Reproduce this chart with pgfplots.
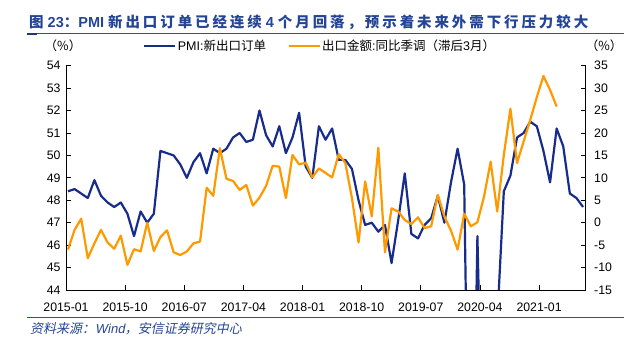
\documentclass[border=0pt]{standalone}
\usepackage{pgfplots}
\pgfplotsset{compat=1.18}
\usepackage{fontspec}
\setmainfont{Liberation Sans}
\newfontfamily\cjk{Noto Sans CJK SC}
\newfontfamily\cjkt{Noto Sans CJK SC}[LetterSpace=20]
\newfontfamily\cjki{Noto Sans CJK SC}[FakeSlant=0.2]
\newfontfamily\lati{Liberation Sans}[FakeSlant=0.2]
\definecolor{pmiblue}{RGB}{24,44,140}
\definecolor{exporange}{RGB}{255,153,0}
\definecolor{titleblue}{RGB}{36,68,150}
\definecolor{ruleblue}{RGB}{44,80,160}

\pgfplotstableread{
x y
0 48.4
1 48.5
2 48.3
3 48.1
4 48.9
5 48.2
6 47.9
7 47.7
8 47.9
9 47.4
10 46.4
11 47.5
12 47.0
13 47.4
14 50.2
15 50.1
16 50.0
17 49.6
18 49.0
19 49.7
20 50.1
21 49.2
22 50.3
23 50.1
24 50.3
25 50.8
26 51.0
27 50.6
28 50.7
29 52.0
30 50.9
31 50.4
32 51.3
33 50.1
34 50.8
35 51.9
36 49.5
37 49.0
38 51.3
39 50.7
40 51.2
41 49.8
42 49.8
43 49.4
44 48.0
45 46.9
46 47.0
47 46.6
48 46.9
49 45.2
50 47.1
51 49.2
52 46.5
53 46.3
54 46.9
55 47.2
56 48.2
57 47.0
58 48.8
59 50.3
60 48.7
61 28.7
62 46.4
63 33.5
64 35.3
65 42.6
66 48.4
67 49.1
68 50.8
69 51.0
70 51.5
71 51.3
72 50.2
73 48.8
74 51.2
75 50.4
76 48.3
77 48.1
78 47.7
}\pmitable

\pgfplotstableread{
x y
0 -6.0
1 -1.6
2 0.9
3 -7.9
4 -4.6
5 -1.6
6 -4.4
7 -5.8
8 -2.9
9 -9.4
10 -5.9
11 -6.4
12 0.0
13 -6.3
14 -3.2
15 -1.7
16 -6.6
17 -7.2
18 -6.4
19 -4.6
20 -4.2
21 7.8
22 6.0
23 16.6
24 9.8
25 9.3
26 7.3
27 8.4
28 3.8
29 5.6
30 8.2
31 12.7
32 12.5
33 5.5
34 15.1
35 13.0
36 13.4
37 10.1
38 12.1
39 11.1
40 10.1
41 15.3
42 13.3
43 5.5
44 -4.4
45 9.2
46 1.4
47 16.7
48 -6.6
49 3.2
50 2.5
51 0.6
52 -0.3
53 1.2
54 -1.2
55 -0.8
56 6.2
57 1.4
58 -1.8
59 -6.0
60 2.0
61 -0.8
62 0.1
63 5.8
64 13.6
65 2.5
66 15.1
67 25.4
68 13.3
69 18.1
70 22.9
71 28.0
72 32.7
73 29.6
74 25.9
}\exptable

\pgfplotsset{
  common/.style={
    at={(66pt,52pt)}, anchor=south west,
    scale only axis, width=519.7pt, height=224.3pt,
    xmin=-0.3, xmax=78.4,
    tick align=inside,
    major tick length=5pt,
    axis line style={-, line width=0.8pt, black},
    tick style={black, line width=0.8pt},
    ticklabel style={font=\fontsize{12.3}{14}\selectfont},
    /pgf/number format/assume math mode=true,
    clip=true,
  }
}

\begin{document}
\begin{tikzpicture}
\useasboundingbox (0pt,0pt) rectangle (644pt,342pt);

% title
\node[anchor=base west, inner sep=0pt, text=titleblue] at (29pt,314pt)
  {\fontsize{14.5}{17}\selectfont\bfseries{\cjkt 图} 23{\cjkt ：}PMI {\cjkt 新出口订单已经连续} 4 {\cjkt 个月回落，预示着未来外需下行压力较大}};
\draw[ruleblue, line width=1.1pt] (27pt,308.3pt) -- (624pt,308.3pt);
\draw[ruleblue!70!black, line width=2pt] (27pt,308.3pt) -- (37pt,308.3pt);

% units
\node[font=\fontsize{12.5}{14}\selectfont] at (63pt,296pt) {\cjk （\%）};
\node[font=\fontsize{12.5}{14}\selectfont] at (604pt,296pt) {\cjk （\%）};

\begin{axis}[common,
  ymin=44, ymax=54, ytick={44,45,...,54},
  axis x line*=bottom, axis y line*=left,
  xtick={-0.3,8.655,17.61,26.565,35.52,44.475,53.43,62.385,71.34},
  xticklabels={2015-01,2015-10,2016-07,2017-04,2018-01,2018-10,2019-07,2020-04,2021-01},
  xticklabel style={yshift=-9pt},
  yticklabel style={xshift=-2pt},
]
\addplot[pmiblue, line width=2.2pt, line join=round] table[x=x,y=y] {\pmitable};
\end{axis}

\begin{axis}[common,
  ymin=-15, ymax=35, ytick={-15,-10,...,35},
  axis x line=none, axis y line*=right,
  yticklabel style={xshift=5pt},
  legend columns=2,
  legend style={draw=none, fill=none, inner sep=0pt,
    at={(0.148,1.088)}, anchor=west,
    font=\fontsize{12.5}{14}\selectfont,
    nodes={inner sep=1.5pt},
    /tikz/every even column/.append style={column sep=20pt}},
  legend image code/.code={\draw[#1] (0pt,0pt) -- (31pt,0pt);},
]
\addlegendimage{pmiblue, line width=2.2pt}
\addlegendentry{PMI:{\cjk 新出口订单}}
\addplot[exporange, line width=2.2pt, line join=round] table[x=x,y=y] {\exptable};
\addlegendentry{{\cjk 出口金额}:{\cjk 同比季调（滞后}3{\cjk 月）}}
\end{axis}

% source
\draw[ruleblue, line width=1pt] (27pt,24.5pt) -- (624pt,24.5pt);
\node[anchor=west, inner sep=0pt, text=titleblue, font=\fontsize{13}{15}\selectfont] at (30pt,13.5pt)
  {{\cjki 资料来源：}{\lati Wind}{\cjki ，安信证券研究中心}};
\end{tikzpicture}
\end{document}
